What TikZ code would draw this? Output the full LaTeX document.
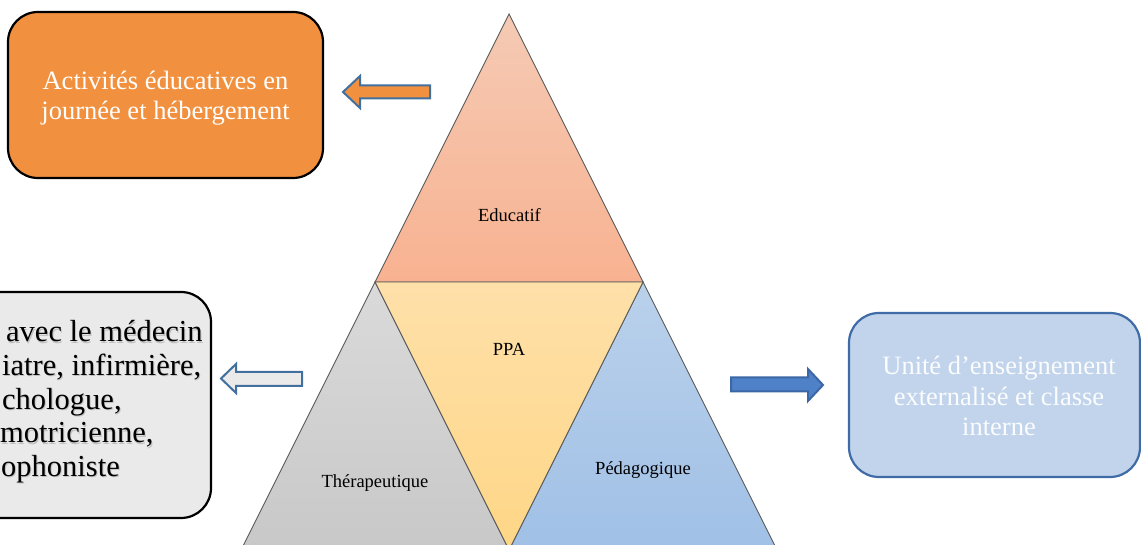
\documentclass[tikz,border=0pt]{standalone}
\usepackage{fontspec}
\setmainfont{Liberation Serif}
\definecolor{orangefill}{HTML}{F1913F}
\definecolor{arrowblue}{HTML}{41709F}
\definecolor{bluefill}{HTML}{C2D4EC}
\definecolor{blueborder}{HTML}{3F6BA7}
\definecolor{grayfill}{HTML}{EAEAEA}
\definecolor{darkarrow}{HTML}{4F81C9}
\definecolor{darkarrowb}{HTML}{3B67A6}
\definecolor{tri}{HTML}{5A5A5A}
\definecolor{eduTop}{HTML}{F5CAB4}
\definecolor{eduBot}{HTML}{F8B291}
\definecolor{ppaTop}{HTML}{FEE0A9}
\definecolor{ppaBot}{HTML}{FED686}
\definecolor{therTop}{HTML}{DADADA}
\definecolor{therBot}{HTML}{C8C8C8}
\definecolor{pedTop}{HTML}{BAD1EB}
\definecolor{pedBot}{HTML}{A0C0E6}
\tikzset{
  trilabel/.style={font=\fontsize{18.5bp}{22bp}\selectfont, inner sep=0pt},
  boxtext/.style={font=\fontsize{26.5bp}{30.5bp}\selectfont, align=center, inner sep=0pt},
  graytext/.style={font=\fontsize{30.5bp}{33.5bp}\selectfont, anchor=base west, inner sep=0pt},
  triedge/.style={draw=tri, line width=0.9bp},
  blockarrow/.style={line width=2bp, line join=miter}
}
\begin{document}
\begin{tikzpicture}[x=1bp,y=-1bp]
\useasboundingbox (0,0) rectangle (1141,545);
\clip (0,0) rectangle (1141,545);
\fill[white] (0,0) rectangle (1141,545);

% triangle vertices
\coordinate (A) at (509,14);
\coordinate (L) at (375,282);
\coordinate (R) at (643,282);
\coordinate (BL) at (241,550);
\coordinate (BM) at (509,550);
\coordinate (BR) at (777,550);

\shade[top color=eduTop, bottom color=eduBot, triedge] (A) -- (L) -- (R) -- cycle;
\shade[top color=therTop, bottom color=therBot, triedge] (L) -- (BL) -- (BM) -- cycle;
\shade[top color=pedTop, bottom color=pedBot, triedge] (R) -- (BM) -- (BR) -- cycle;
\shade[top color=ppaTop, bottom color=ppaBot, triedge] (L) -- (R) -- (BM) -- cycle;

\node[trilabel] (edu) at (509.5,215.5) {Educatif};
\node[trilabel] (ppa) at (509,349) {PPA};
\node[trilabel] (ther) at (375,483) {Thérapeutique};
\node[trilabel] (ped) at (643,470) {Pédagogique};

% orange box
\node[draw=black, line width=2.2bp, fill=orangefill, rounded corners=30bp,
      minimum width=315bp, minimum height=166bp] (obox) at (165.5,95) {};
\node[boxtext, text=white] (otext) at (165.5,98) {Activités éducatives en\\journée et hébergement};

% gray box
\node[draw=black, line width=2.2bp, fill=grayfill, rounded corners=30bp,
      minimum width=331bp, minimum height=226bp] (gbox) at (45.5,405) {};
\foreach \n/\x/\y/\t in {g1/6/342/avec le médecin, g2/2/375.5/{iatre, infirmière,}, g3/2/409/{chologue,}, g4/0/442.5/{motricienne,}, g5/1/476/ophoniste}{
  \node[graytext, text=black!35, opacity=0.6] at (\x+1,\y+1.5) {\t};
  \node[graytext] (\n) at (\x,\y) {\t};
}

% blue box
\node[draw=blueborder, line width=2.2bp, fill=bluefill, rounded corners=30bp,
      minimum width=291bp, minimum height=164bp] (bbox) at (994.5,395) {};
\node[boxtext, text=white!92!bluefill] (btext) at (999,396) {Unité d’enseignement\\externalisé et classe\\interne};

% block arrows
\draw[blockarrow, draw=arrowblue, fill=orangefill]
  (343,92) -- (360,76) -- (360,85.5) -- (430,85.5) -- (430,98.5) -- (360,98.5) -- (360,108) -- cycle;
\draw[blockarrow, draw=arrowblue, fill=grayfill]
  (221,378.5) -- (236,364) -- (236,372) -- (302,372) -- (302,386) -- (236,386) -- (236,393) -- cycle;
\draw[blockarrow, draw=darkarrowb, fill=darkarrow]
  (823,385) -- (808,369) -- (808,377.5) -- (731,377.5) -- (731,391.5) -- (808,391.5) -- (808,401) -- cycle;
\end{tikzpicture}
\end{document}
